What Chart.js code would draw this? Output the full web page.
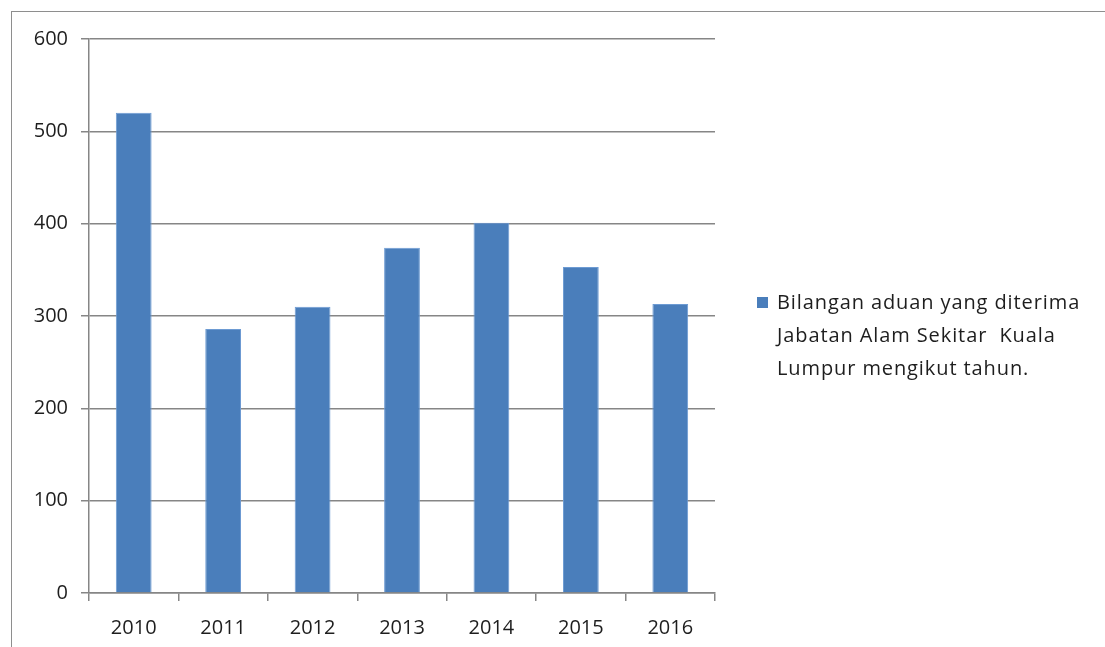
<!DOCTYPE html>
<html>
<head>
<meta charset="utf-8">
<script src="https://cdn.jsdelivr.net/npm/chart.js@4"></script>
<style>
    body { margin: 0; background: #fff; overflow: hidden; }
    #wrap { position: relative; width: 1105px; height: 647px; overflow: hidden; }
    #frame { position: absolute; left: 11px; top: 11px; width: 1200px; height: 700px; border: 1px solid #8e8e8e; }
    #grafico { position: absolute; left: 0; top: 0; }
    #legenda { position: absolute; left: 757px; top: 285px; font-family: 'Open Sans', sans-serif; font-size: 20px; letter-spacing: 0.9px; color: #1e1e1e; line-height: 33px; }
    #legenda .kotak { position: absolute; left: 0; top: 12px; width: 11px; height: 11px; background: #4a7ebb; }
    #legenda .teks { margin-left: 20px; white-space: pre; }
</style>
</head>
<body>
<div id="wrap">
    <div id="frame"></div>
    <canvas id="grafico" width="1105" height="647"></canvas>
    <div id="legenda"><div class="kotak"></div><div class="teks" id="legenda-teks"></div></div>
</div>
<script>
// Bilangan aduan - Jabatan Alam Sekitar Kuala Lumpur
const tahun = ['2010', '2011', '2012', '2013', '2014', '2015', '2016'];
const aduan = [520, 286, 310, 374, 401, 353, 313];
const labelSiri = ['Bilangan aduan yang diterima', 'Jabatan Alam Sekitar  Kuala', 'Lumpur mengikut tahun.'];

document.getElementById('legenda-teks').textContent = labelSiri.join('\n');

const ctx = document.getElementById('grafico');

new Chart(ctx.getContext('2d'), {
    type: 'bar',
    data: {
        labels: tahun,
        datasets: [{
            label: labelSiri.join(' '),
            data: aduan,
            backgroundColor: '#4a7ebb',
            borderColor: '#6d9bd3',
            borderWidth: 1,
            barPercentage: 0.4,
            categoryPercentage: 1
        }]
    },
    options: {
        responsive: false,
        devicePixelRatio: 1,
        animation: false,
        layout: {
            padding: { top: 39, right: 390, left: 0, bottom: 0 }
        },
        plugins: {
            legend: { display: false },
            tooltip: { enabled: false }
        },
        scales: {
            x: {
                afterFit: function(scale) { scale.height = 54; },
                grid: {
                    drawOnChartArea: false,
                    drawTicks: true,
                    tickLength: 8,
                    color: '#868686',
                    lineWidth: 1.5
                },
                border: { display: true, color: '#868686', width: 1.5 },
                ticks: {
                    padding: 15,
                    color: '#1e1e1e',
                    font: { family: 'Open Sans', size: 20 }
                }
            },
            y: {
                min: 0,
                max: 600,
                afterFit: function(scale) { scale.width = 89; },
                grid: {
                    color: '#868686',
                    lineWidth: 1.5,
                    tickLength: 8
                },
                border: { display: true, color: '#868686', width: 1.5 },
                ticks: {
                    stepSize: 100,
                    padding: 13,
                    color: '#1e1e1e',
                    font: { family: 'Open Sans', size: 20 }
                }
            }
        }
    }
});
</script>
</body>
</html>
